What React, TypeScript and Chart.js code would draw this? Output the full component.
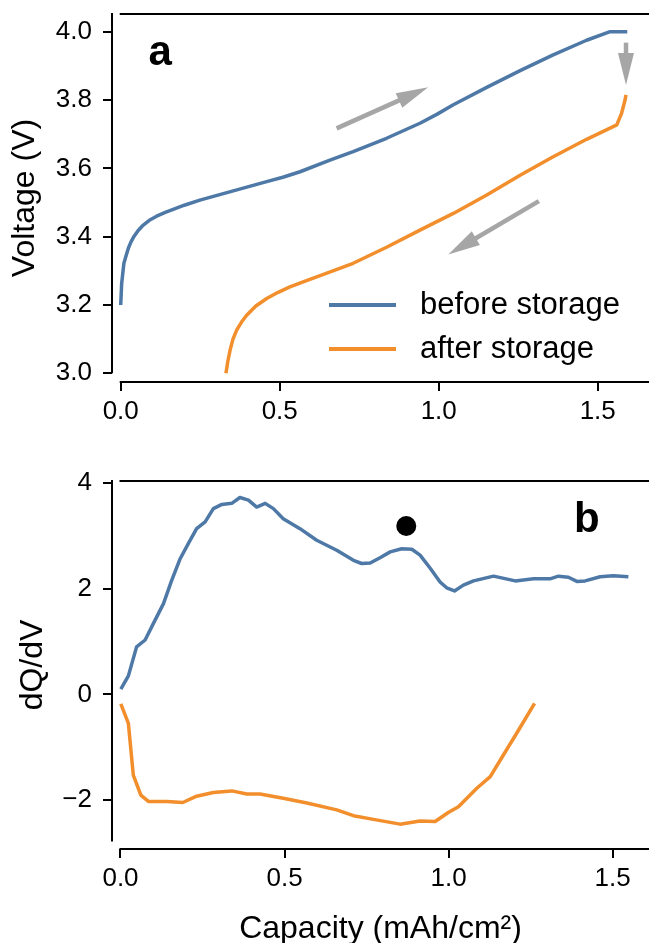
import React, { useEffect, useRef } from "react";
import { Chart, registerables } from "chart.js";

Chart.register(...registerables);

const FONT = "'Liberation Sans', Arial, Helvetica, sans-serif";

// ---------------- data ----------------
const seriesLabels = ["before storage", "after storage"];
const seriesColors = ["#4e79a7", "#f28e2b"];

// tick values
const xTicks = [0, 0.5, 1.0, 1.5];
const voltageTicks = [3.0, 3.2, 3.4, 3.6, 3.8, 4.0];
const dqdvTicks = [-2, 0, 2, 4];

// axis ranges
const xRangeA = [-0.0274, 1.6613];
const yRangeA = [2.9745, 4.0518];
const xRangeB = [-0.0259, 1.6108];
const yRangeB = [-2.931, 4.0436];

// panel a : voltage vs capacity
const capBefore = [0.0, 0.003, 0.01, 0.018, 0.024, 0.032, 0.04, 0.055, 0.071, 0.09, 0.113, 0.14, 0.165, 0.2, 0.249, 0.3, 0.354, 0.405, 0.459, 0.51, 0.564, 0.658, 0.731, 0.836, 0.941, 0.994, 1.046, 1.151, 1.256, 1.36, 1.465, 1.539, 1.593];
const voltBefore = [3.2, 3.263, 3.322, 3.348, 3.366, 3.384, 3.398, 3.418, 3.434, 3.448, 3.46, 3.471, 3.48, 3.492, 3.507, 3.52, 3.534, 3.547, 3.561, 3.574, 3.59, 3.624, 3.649, 3.688, 3.732, 3.758, 3.786, 3.837, 3.886, 3.932, 3.975, 4.0, 4.0];

const capAfter = [0.331, 0.337, 0.344, 0.353, 0.365, 0.38, 0.396, 0.425, 0.459, 0.495, 0.532, 0.58, 0.627, 0.731, 0.836, 0.941, 1.046, 1.151, 1.256, 1.36, 1.465, 1.56, 1.575, 1.586, 1.589];
const voltAfter = [3.0, 3.036, 3.068, 3.1, 3.127, 3.15, 3.17, 3.197, 3.219, 3.237, 3.253, 3.27, 3.286, 3.322, 3.369, 3.419, 3.468, 3.522, 3.58, 3.634, 3.685, 3.727, 3.761, 3.8, 3.815];

// panel b : dQ/dV vs capacity
const capDqBefore = [0.001, 0.024, 0.049, 0.075, 0.1, 0.131, 0.156, 0.181, 0.207, 0.232, 0.258, 0.283, 0.309, 0.339, 0.364, 0.39, 0.415, 0.441, 0.466, 0.496, 0.547, 0.598, 0.659, 0.71, 0.735, 0.761, 0.791, 0.822, 0.857, 0.888, 0.913, 0.944, 0.974, 0.994, 1.018, 1.045, 1.076, 1.137, 1.203, 1.259, 1.309, 1.335, 1.365, 1.391, 1.416, 1.462, 1.502, 1.548];
const dqBefore = [0.1, 0.35, 0.9, 1.03, 1.34, 1.72, 2.16, 2.56, 2.86, 3.14, 3.27, 3.52, 3.6, 3.62, 3.73, 3.68, 3.55, 3.62, 3.52, 3.33, 3.14, 2.92, 2.73, 2.54, 2.48, 2.49, 2.59, 2.7, 2.76, 2.75, 2.64, 2.39, 2.13, 2.02, 1.96, 2.07, 2.15, 2.24, 2.15, 2.19, 2.19, 2.24, 2.22, 2.14, 2.15, 2.23, 2.25, 2.23];

const capDqAfter = [0.001, 0.024, 0.039, 0.062, 0.085, 0.141, 0.19, 0.232, 0.283, 0.339, 0.385, 0.425, 0.496, 0.568, 0.659, 0.71, 0.771, 0.852, 0.913, 0.959, 0.999, 1.03, 1.086, 1.127, 1.167, 1.213, 1.262];
const dqAfter = [-0.18, -0.55, -1.53, -1.91, -2.03, -2.03, -2.05, -1.93, -1.86, -1.83, -1.89, -1.89, -1.97, -2.06, -2.19, -2.3, -2.37, -2.46, -2.4, -2.41, -2.24, -2.13, -1.78, -1.56, -1.15, -0.68, -0.17];

// marked peak
const dotCap = [0.871];
const dotDq = [3.19];

// annotation arrows (data coordinates of panel a): [x1, y1, x2, y2]
const arrowsA = [
  [0.679, 3.717, 0.967, 3.837],
  [1.315, 3.504, 1.03, 3.348],
  [1.589, 3.968, 1.589, 3.844],
];

const pts = (xs: number[], ys: number[]) => xs.map((x, i) => ({ x, y: ys[i] }));

// ---------------- decoration plugin ----------------
function drawArrow(ctx: CanvasRenderingContext2D, x1: number, y1: number, x2: number, y2: number) {
  const ang = Math.atan2(y2 - y1, x2 - x1);
  const headLen = 32;
  const headW = 8;
  const bx = x2 - headLen * Math.cos(ang);
  const by = y2 - headLen * Math.sin(ang);
  ctx.strokeStyle = "#a6a6a6";
  ctx.fillStyle = "#a6a6a6";
  ctx.lineWidth = 4.5;
  ctx.lineCap = "butt";
  ctx.beginPath();
  ctx.moveTo(x1, y1);
  ctx.lineTo(bx + Math.cos(ang) * 2, by + Math.sin(ang) * 2);
  ctx.stroke();
  ctx.beginPath();
  ctx.moveTo(x2, y2);
  ctx.lineTo(bx + headW * Math.sin(ang), by - headW * Math.cos(ang));
  ctx.lineTo(bx - headW * Math.sin(ang), by + headW * Math.cos(ang));
  ctx.closePath();
  ctx.fill();
}

const decor = {
  id: "decor",
  afterDraw(chart: any, _args: any, opts: any) {
    const { ctx, chartArea: ca, scales } = chart;
    const xs = scales.x;
    const ys = scales.y;
    ctx.save();
    ctx.strokeStyle = "#000";
    ctx.lineWidth = 2;
    ctx.lineCap = "butt";
    const x0 = xs.getPixelForValue(0);
    // left spine
    ctx.beginPath();
    ctx.moveTo(ca.left, ys.getPixelForValue(opts.spineYLo));
    ctx.lineTo(ca.left, ca.top - 1);
    ctx.stroke();
    // bottom spine
    ctx.beginPath();
    ctx.moveTo(x0 - 1, ca.bottom);
    ctx.lineTo(ca.right, ca.bottom);
    ctx.stroke();
    // top spine
    ctx.beginPath();
    ctx.moveTo(x0 - 1, ca.top);
    ctx.lineTo(ca.right, ca.top);
    ctx.stroke();

    // arrows
    (opts.arrows || []).forEach((a: number[]) => {
      drawArrow(ctx, xs.getPixelForValue(a[0]), ys.getPixelForValue(a[1]), xs.getPixelForValue(a[2]), ys.getPixelForValue(a[3]));
    });

    // panel letter
    ctx.fillStyle = "#000";
    ctx.font = `bold 42px ${FONT}`;
    ctx.textAlign = "left";
    ctx.textBaseline = "alphabetic";
    ctx.fillText(opts.letter, xs.getPixelForValue(opts.letterPos[0]), ys.getPixelForValue(opts.letterPos[1]));

    // legend
    if (opts.legend) {
      const lx = ca.left + 217;
      const ly = ca.top + 291;
      ctx.font = `31px ${FONT}`;
      ctx.textBaseline = "middle";
      chart.data.datasets.forEach((ds: any, i: number) => {
        if (!ds.inLegend) return;
        const y = ly + i * 44;
        ctx.strokeStyle = ds.borderColor;
        ctx.lineWidth = 4;
        ctx.beginPath();
        ctx.moveTo(lx, y);
        ctx.lineTo(lx + 67, y);
        ctx.stroke();
        ctx.fillStyle = "#000";
        ctx.fillText(ds.label, lx + 91, y);
      });
    }
    ctx.restore();
  },
};

function axisCommon(tickVals: number[], fmt: (v: number) => string, padding: number) {
  return {
    type: "linear" as const,
    grid: {
      display: true,
      drawOnChartArea: false,
      drawTicks: true,
      tickLength: 9,
      lineWidth: 2,
      color: "#000",
      tickColor: "#000",
    },
    border: { display: false },
    afterBuildTicks: (scale: any) => {
      scale.ticks = tickVals.map((v) => ({ value: v }));
    },
    ticks: {
      autoSkip: false,
      maxRotation: 0,
      includeBounds: false,
      padding,
      color: "#000",
      font: { family: FONT, size: 26, lineHeight: 1 },
      callback: (v: any) => fmt(Number(v)),
    },
  };
}

const fixSize = (dim: "width" | "height", size: number) => (s: any) => {
  s[dim] = size;
  s.paddingTop = 0;
  s.paddingBottom = 0;
  s.paddingLeft = 0;
  s.paddingRight = 0;
};

const fmt1 = (v: number) => v.toFixed(1);
const fmtInt = (v: number) => (v < 0 ? "\u2212" + Math.abs(Math.round(v)) : String(Math.round(v)));

const titleFont = { family: FONT, size: 32, lineHeight: 0.9 };

function PanelA() {
  const ref = useRef<HTMLCanvasElement | null>(null);
  useEffect(() => {
    const chart = new Chart(ref.current as HTMLCanvasElement, {
      type: "line",
      data: {
        datasets: [
          {
            label: seriesLabels[0],
            data: pts(capBefore, voltBefore),
            borderColor: seriesColors[0],
            borderWidth: 3.5,
            pointRadius: 0,
            tension: 0,
            borderJoinStyle: "round",
            inLegend: true,
          } as any,
          {
            label: seriesLabels[1],
            data: pts(capAfter, voltAfter),
            borderColor: seriesColors[1],
            borderWidth: 3.5,
            pointRadius: 0,
            tension: 0,
            borderJoinStyle: "round",
            inLegend: true,
          } as any,
        ],
      },
      options: {
        animation: false,
        responsive: false,
        devicePixelRatio: 1,
        events: [],
        layout: { autoPadding: false, padding: { top: 14, left: 0, right: 0, bottom: 0 } },
        plugins: {
          legend: { display: false },
          tooltip: { enabled: false },
          decor: {
            spineYLo: 3.0,
            arrows: arrowsA,
            letter: "a",
            letterPos: [0.087, 3.9025],
            legend: true,
          },
        } as any,
        scales: {
          x: {
            ...axisCommon(xTicks, fmt1, 8),
            min: xRangeA[0],
            max: xRangeA[1],
            afterFit: fixSize("height", 58),
          },
          y: {
            ...axisCommon(voltageTicks, fmt1, 11),
            min: yRangeA[0],
            max: yRangeA[1],
            afterFit: fixSize("width", 112),
            title: {
              display: true,
              text: "Voltage (V)",
              color: "#000",
              font: titleFont,
              padding: { top: 10.6, bottom: 0 },
            },
          },
        } as any,
      },
      plugins: [decor],
    });
    return () => chart.destroy();
  }, []);
  return <canvas ref={ref} width={649} height={440} style={{ position: "absolute", left: 0, top: 0 }} />;
}

function PanelB() {
  const ref = useRef<HTMLCanvasElement | null>(null);
  useEffect(() => {
    const chart = new Chart(ref.current as HTMLCanvasElement, {
      type: "line",
      data: {
        datasets: [
          {
            label: seriesLabels[0],
            data: pts(capDqBefore, dqBefore),
            borderColor: seriesColors[0],
            borderWidth: 3.5,
            pointRadius: 0,
            tension: 0,
            borderJoinStyle: "round",
          } as any,
          {
            label: seriesLabels[1],
            data: pts(capDqAfter, dqAfter),
            borderColor: seriesColors[1],
            borderWidth: 3.5,
            pointRadius: 0,
            tension: 0,
            borderJoinStyle: "round",
          } as any,
          {
            label: "peak",
            data: pts(dotCap, dotDq),
            showLine: false,
            pointRadius: 10,
            pointBackgroundColor: "#000",
            pointBorderWidth: 0,
            borderColor: "#000",
          },
        ],
      },
      options: {
        animation: false,
        responsive: false,
        devicePixelRatio: 1,
        events: [],
        layout: { autoPadding: false, padding: { top: 41, left: 0, right: 0, bottom: 0 } },
        plugins: {
          legend: { display: false },
          tooltip: { enabled: false },
          decor: {
            spineYLo: -2.79,
            arrows: [],
            letter: "b",
            letterPos: [1.382, 3.081],
            legend: false,
          },
        } as any,
        scales: {
          x: {
            ...axisCommon(xTicks, fmt1, 8),
            min: xRangeB[0],
            max: xRangeB[1],
            afterFit: fixSize("height", 94),
            title: {
              display: true,
              text: "Capacity (mAh/cm\u00B2)",
              color: "#000",
              font: { family: FONT, size: 32, lineHeight: 0.84 },
              padding: { top: 0, bottom: 0 },
            },
          },
          y: {
            ...axisCommon(dqdvTicks, fmtInt, 11),
            min: yRangeB[0],
            max: yRangeB[1],
            afterFit: fixSize("width", 112),
            title: {
              display: true,
              text: "dQ/dV",
              color: "#000",
              font: titleFont,
              padding: { top: 18.8, bottom: 0 },
            },
          },
        } as any,
      },
      plugins: [decor],
    });
    return () => chart.destroy();
  }, []);
  return <canvas ref={ref} width={649} height={503} style={{ position: "absolute", left: 0, top: 440 }} />;
}

export default function App() {
  return (
    <div style={{ position: "fixed", left: 0, top: 0, width: 649, height: 943, background: "#fff", overflow: "hidden" }}>
      <PanelA />
      <PanelB />
    </div>
  );
}
